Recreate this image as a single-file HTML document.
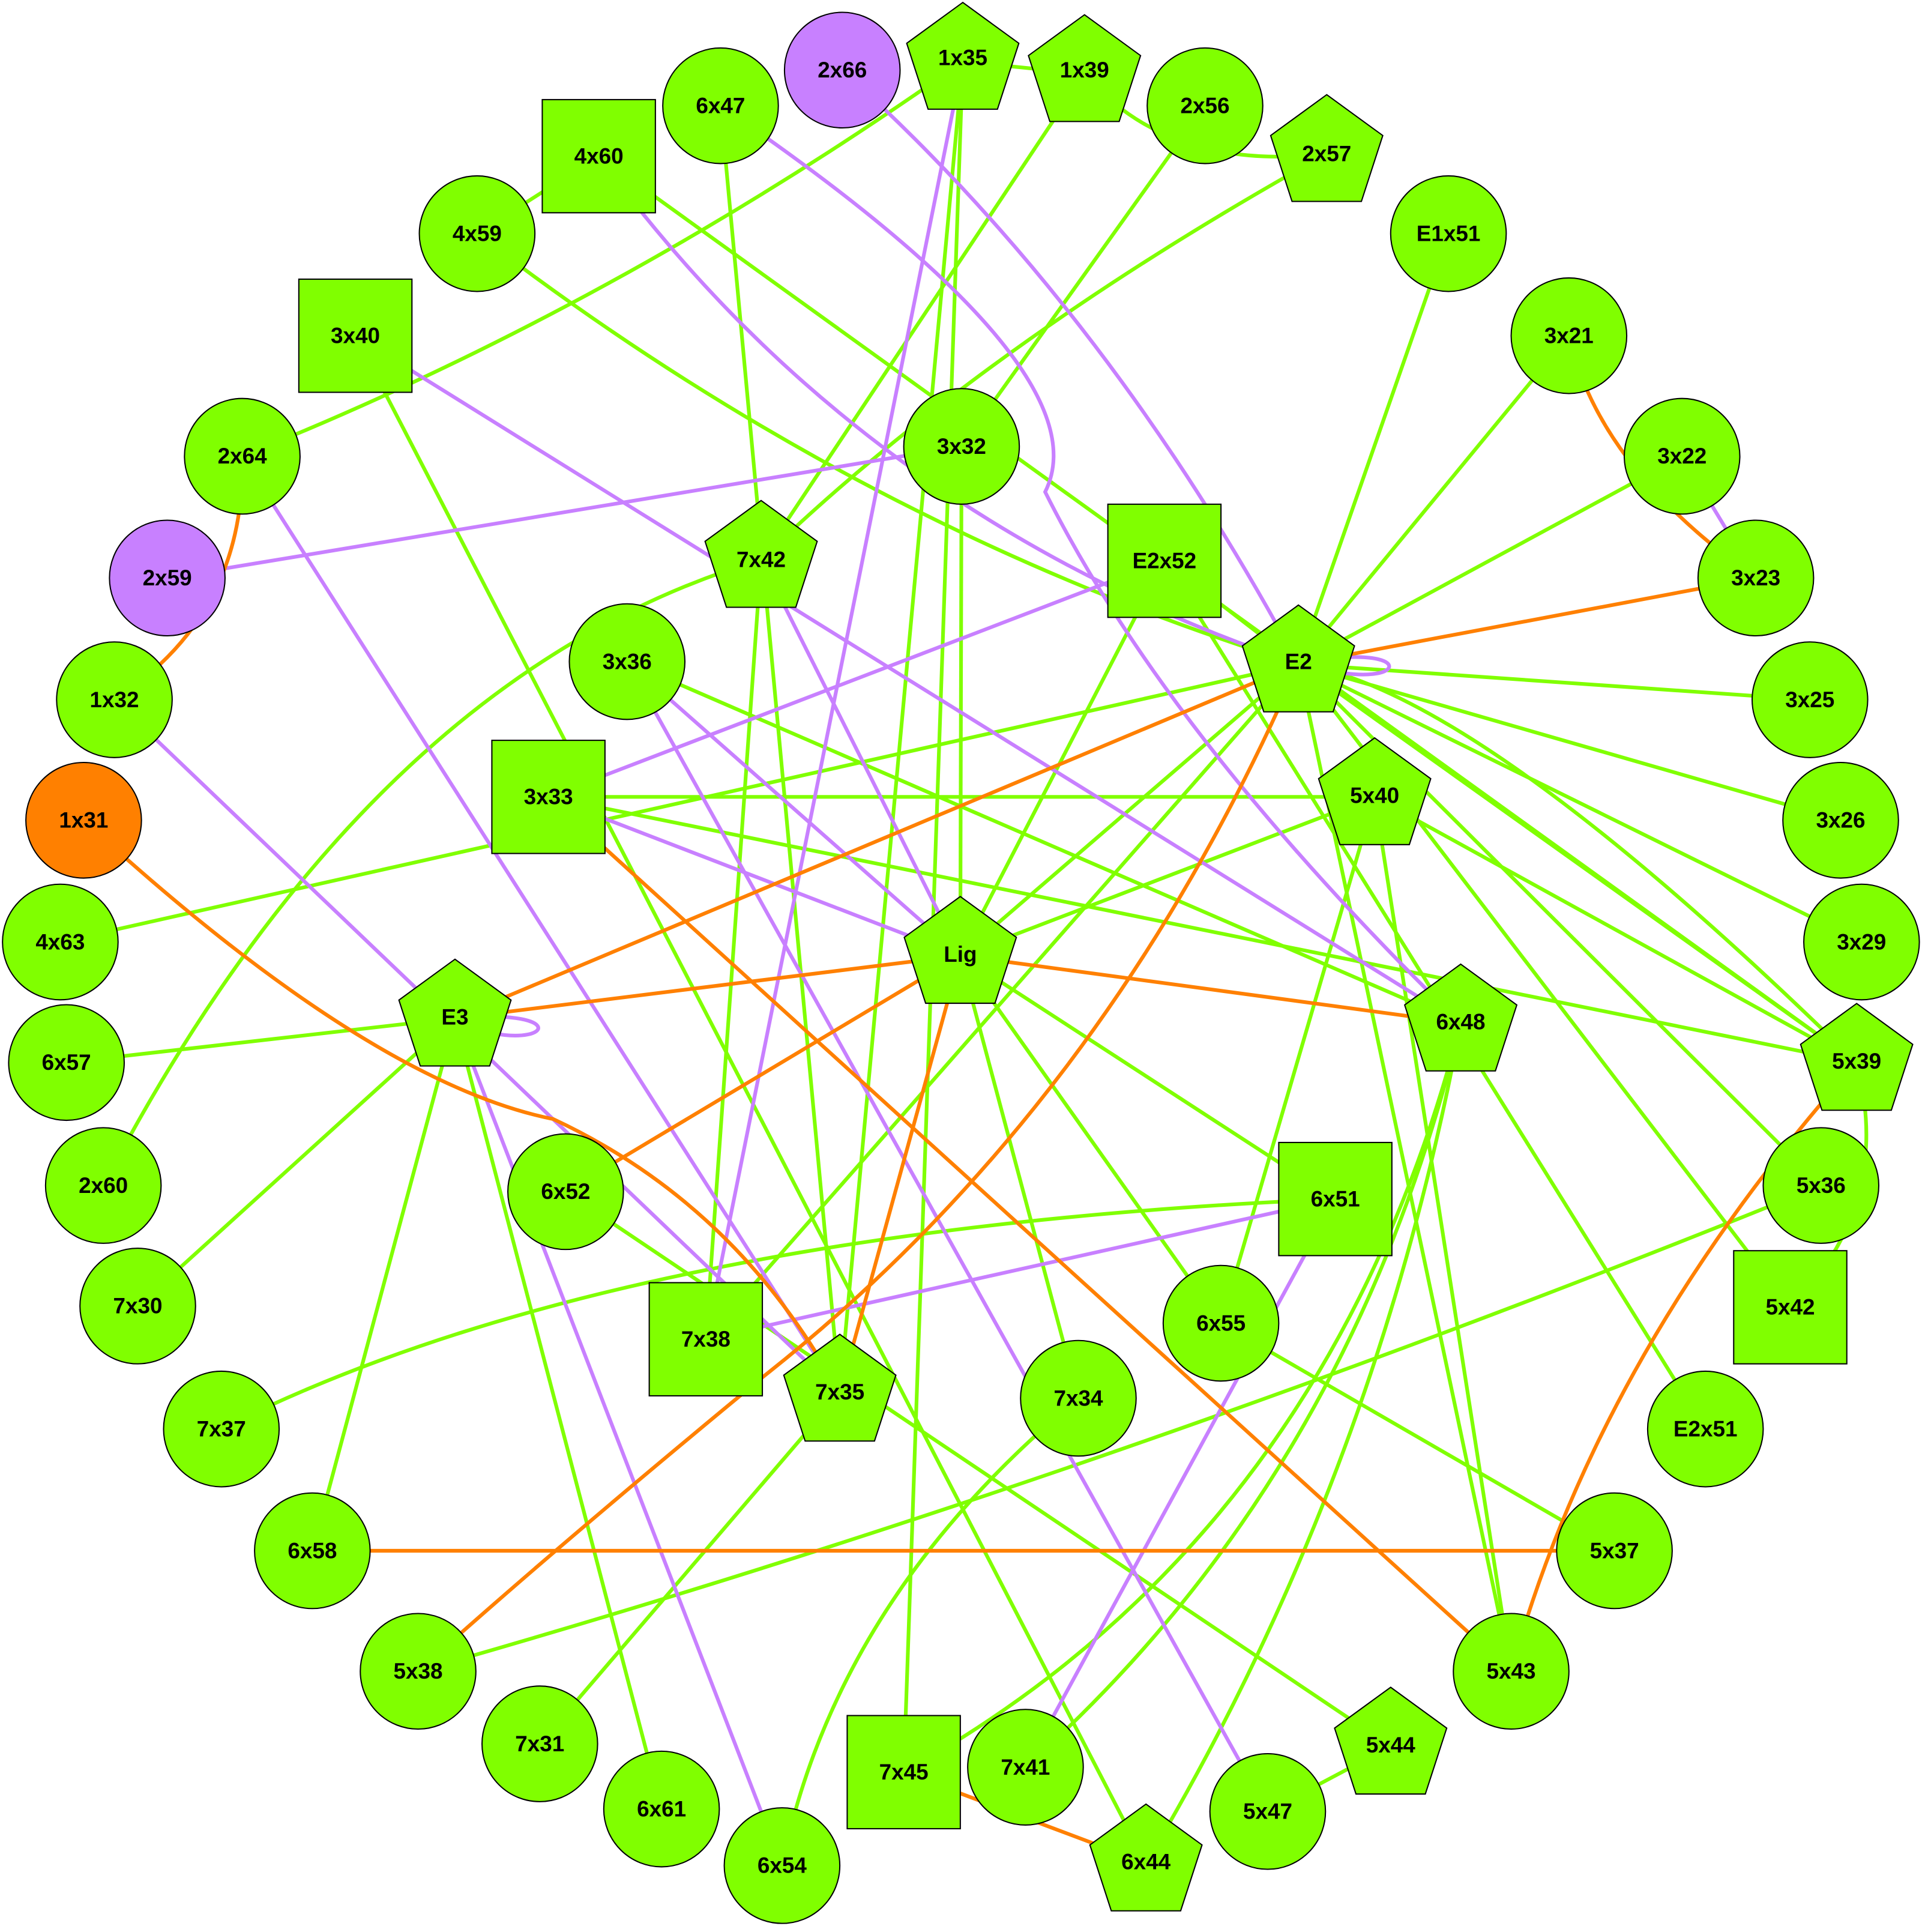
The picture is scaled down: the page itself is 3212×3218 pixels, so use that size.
<!DOCTYPE html>
<html><head><meta charset="utf-8"><style>html,body{margin:0;padding:0;background:#fff}svg{display:block}</style></head><body>
<svg width="3212" height="3218" viewBox="0 0 1568 1571" xmlns="http://www.w3.org/2000/svg">
<defs>
<polygon id="pg" points="0,-48 45.6,-14.8 28.2,38.8 -28.2,38.8 -45.6,-14.8" fill="#80ff00" stroke="#000" stroke-width="1"/>
<circle id="ci" r="47" fill="#80ff00" stroke="#000" stroke-width="1"/>
<circle id="cp" r="47" fill="#c880ff" stroke="#000" stroke-width="1"/>
<circle id="co" r="47" fill="#ff8000" stroke="#000" stroke-width="1"/>
<rect id="sq" x="-46" y="-46" width="92" height="92" fill="#80ff00" stroke="#000" stroke-width="1"/>
</defs>
<g fill="none" stroke-width="3">
<g stroke="#80ff00">
<path d="M783 50 L882 60"/>
<path d="M783 50 Q500 250 197 371"/>
<path d="M783 50 L683 1133"/>
<path d="M783 50 L735 1441"/>
<path d="M882 60 Q950 140 1079 125"/>
<path d="M882 60 L619 455"/>
<path d="M980 86 L782 363"/>
<path d="M1079 125 Q800 280 619 455"/>
<path d="M586 86 L683 1133"/>
<path d="M487 127 L1510 864"/>
<path d="M388 190 L487 127"/>
<path d="M388 190 Q700 430 1056 540"/>
<path d="M289 273 L932 1515"/>
<path d="M1178 190 L1056 540"/>
<path d="M1276 273 L1056 540"/>
<path d="M1368 371 L1056 540"/>
<path d="M782 363 L781 777"/>
<path d="M619 455 L574 1089"/>
<path d="M619 455 Q300 550 84 964"/>
<path d="M947 456 L781 777"/>
<path d="M947 456 L1056 540"/>
<path d="M947 456 L1387 1162"/>
<path d="M1056 540 L1472 569"/>
<path d="M1056 540 L1497 667"/>
<path d="M1056 540 L1514 766"/>
<path d="M1056 540 L1510 864"/>
<path d="M1056 540 Q1200 560 1510 864"/>
<path d="M1056 540 L1481 964"/>
<path d="M1056 540 L1456 1063"/>
<path d="M1056 540 L49 766"/>
<path d="M1056 540 L781 777"/>
<path d="M1056 540 L574 1089"/>
<path d="M1056 540 L1229 1359"/>
<path d="M510 538 L1188 832"/>
<path d="M446 648 L1118 648"/>
<path d="M446 648 L1510 864"/>
<path d="M1118 648 L781 777"/>
<path d="M1118 648 L993 1076"/>
<path d="M1118 648 L1510 864"/>
<path d="M1118 648 L1229 1359"/>
<path d="M781 777 L1086 975"/>
<path d="M781 777 L993 1076"/>
<path d="M781 777 L877 1137"/>
<path d="M370 828 L54 864"/>
<path d="M370 828 L112 1062"/>
<path d="M370 828 L254 1261"/>
<path d="M370 828 L538 1471"/>
<path d="M1188 832 Q1100 1200 834 1437"/>
<path d="M1188 832 Q1120 1200 932 1515"/>
<path d="M1188 832 Q1080 1250 735 1441"/>
<path d="M1510 864 Q1540 980 1456 1063"/>
<path d="M460 969 L1131 1420"/>
<path d="M1086 975 Q500 1000 180 1162"/>
<path d="M1481 964 Q900 1200 340 1359"/>
<path d="M993 1076 L1313 1261"/>
<path d="M683 1133 L439 1418"/>
<path d="M877 1137 Q680 1300 636 1517"/>
<path d="M1031 1473 L1131 1420"/>
</g>
<g stroke="#c880ff">
<path d="M783 50 L574 1089"/>
<path d="M685 57 Q900 250 1056 540"/>
<path d="M586 86 Q900 300 850 400 Q950 600 1188 832"/>
<path d="M487 127 Q700 420 1056 540"/>
<path d="M289 273 L1188 832"/>
<path d="M1368 371 L1428 470"/>
<path d="M782 363 L136 470"/>
<path d="M197 371 L683 1133"/>
<path d="M619 455 L781 777"/>
<path d="M947 456 L446 648"/>
<path d="M510 538 L781 777"/>
<path d="M510 538 L1031 1473"/>
<path d="M446 648 L781 777"/>
<path d="M93 569 L683 1133"/>
<path d="M370 828 L636 1517"/>
<path d="M1086 975 L574 1089"/>
<path d="M1086 975 L834 1437"/>
<path d="M1056 540 C1150 520 1150 560 1080 545"/>
<path d="M370 828 C460 820 450 850 400 840"/>
</g>
<g stroke="#ff8000">
<path d="M1276 273 Q1300 380 1428 470"/>
<path d="M1428 470 L1056 540"/>
<path d="M197 371 Q200 500 93 569"/>
<path d="M1056 540 L370 828"/>
<path d="M1056 540 Q900 900 620 1120 Q450 1260 340 1359"/>
<path d="M446 648 L1229 1359"/>
<path d="M68 667 Q300 880 450 910 Q600 980 683 1133"/>
<path d="M781 777 L370 828"/>
<path d="M781 777 L1188 832"/>
<path d="M781 777 L460 969"/>
<path d="M781 777 L683 1133"/>
<path d="M1510 864 Q1300 1100 1229 1359"/>
<path d="M254 1261 L1313 1261"/>
<path d="M735 1441 L932 1515"/>
</g>
</g>
<g>
<use href="#cp" x="685" y="57"/><use href="#pg" x="783" y="50"/><use href="#pg" x="882" y="60"/>
<use href="#ci" x="586" y="86"/><use href="#ci" x="980" y="86"/><use href="#sq" x="487" y="127"/>
<use href="#pg" x="1079" y="125"/><use href="#ci" x="388" y="190"/><use href="#ci" x="1178" y="190"/>
<use href="#sq" x="289" y="273"/><use href="#ci" x="1276" y="273"/><use href="#ci" x="782" y="363"/>
<use href="#ci" x="197" y="371"/><use href="#ci" x="1368" y="371"/><use href="#pg" x="619" y="455"/>
<use href="#sq" x="947" y="456"/><use href="#cp" x="136" y="470"/><use href="#ci" x="1428" y="470"/>
<use href="#ci" x="510" y="538"/><use href="#pg" x="1056" y="540"/><use href="#ci" x="93" y="569"/>
<use href="#ci" x="1472" y="569"/><use href="#sq" x="446" y="648"/><use href="#pg" x="1118" y="648"/>
<use href="#co" x="68" y="667"/><use href="#ci" x="1497" y="667"/><use href="#ci" x="49" y="766"/>
<use href="#pg" x="781" y="777"/><use href="#ci" x="1514" y="766"/><use href="#pg" x="370" y="828"/>
<use href="#pg" x="1188" y="832"/><use href="#ci" x="54" y="864"/><use href="#pg" x="1510" y="864"/>
<use href="#ci" x="84" y="964"/><use href="#ci" x="460" y="969"/><use href="#sq" x="1086" y="975"/>
<use href="#ci" x="1481" y="964"/><use href="#ci" x="112" y="1062"/><use href="#sq" x="1456" y="1063"/>
<use href="#sq" x="574" y="1089"/><use href="#ci" x="993" y="1076"/><use href="#pg" x="683" y="1133"/>
<use href="#ci" x="877" y="1137"/><use href="#ci" x="180" y="1162"/><use href="#ci" x="1387" y="1162"/>
<use href="#ci" x="254" y="1261"/><use href="#ci" x="1313" y="1261"/><use href="#ci" x="340" y="1359"/>
<use href="#ci" x="1229" y="1359"/><use href="#ci" x="439" y="1418"/><use href="#pg" x="1131" y="1420"/>
<use href="#ci" x="538" y="1471"/><use href="#sq" x="735" y="1441"/><use href="#ci" x="834" y="1437"/>
<use href="#ci" x="1031" y="1473"/><use href="#ci" x="636" y="1517"/><use href="#pg" x="932" y="1515"/>
</g>
<g font-family="Liberation Sans, Arial, sans-serif" font-weight="bold" font-size="18" text-anchor="middle" fill="#000">
<text x="685" y="63">2x66</text><text x="783" y="53">1x35</text><text x="882" y="63">1x39</text>
<text x="586" y="92">6x47</text><text x="980" y="92">2x56</text><text x="487" y="133">4x60</text>
<text x="1079" y="131">2x57</text><text x="388" y="196">4x59</text><text x="1178" y="196">E1x51</text>
<text x="289" y="279">3x40</text><text x="1276" y="279">3x21</text><text x="782" y="369">3x32</text>
<text x="197" y="377">2x64</text><text x="1368" y="377">3x22</text><text x="619" y="461">7x42</text>
<text x="947" y="462">E2x52</text><text x="136" y="476">2x59</text><text x="1428" y="476">3x23</text>
<text x="510" y="544">3x36</text><text x="1056" y="544">E2</text><text x="93" y="575">1x32</text>
<text x="1472" y="575">3x25</text><text x="446" y="654">3x33</text><text x="1118" y="653">5x40</text>
<text x="68" y="673">1x31</text><text x="1497" y="673">3x26</text><text x="49" y="772">4x63</text>
<text x="781" y="782">Lig</text><text x="1514" y="772">3x29</text><text x="370" y="833">E3</text>
<text x="1188" y="837">6x48</text><text x="54" y="870">6x57</text><text x="1510" y="869">5x39</text>
<text x="84" y="970">2x60</text><text x="460" y="975">6x52</text><text x="1086" y="981">6x51</text>
<text x="1481" y="970">5x36</text><text x="112" y="1068">7x30</text><text x="1456" y="1069">5x42</text>
<text x="574" y="1095">7x38</text><text x="993" y="1082">6x55</text><text x="683" y="1138">7x35</text>
<text x="877" y="1143">7x34</text><text x="180" y="1168">7x37</text><text x="1387" y="1168">E2x51</text>
<text x="254" y="1267">6x58</text><text x="1313" y="1267">5x37</text><text x="340" y="1365">5x38</text>
<text x="1229" y="1365">5x43</text><text x="439" y="1424">7x31</text><text x="1131" y="1425">5x44</text>
<text x="538" y="1477">6x61</text><text x="735" y="1447">7x45</text><text x="834" y="1443">7x41</text>
<text x="1031" y="1479">5x47</text><text x="636" y="1523">6x54</text><text x="932" y="1520">6x44</text>
</g>
</svg>
</body></html>
